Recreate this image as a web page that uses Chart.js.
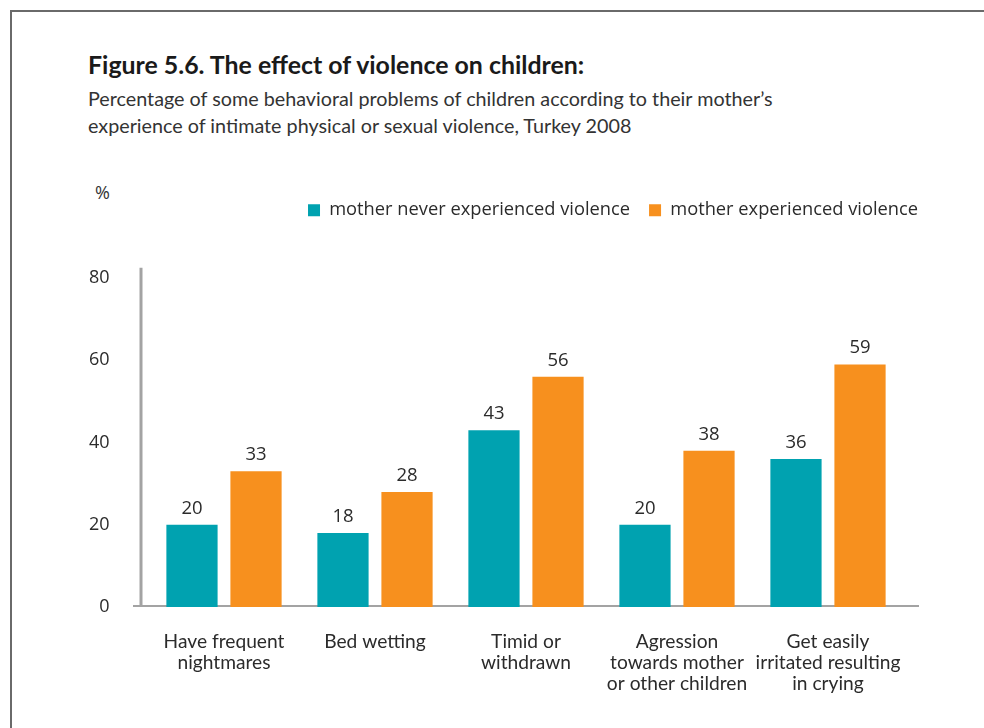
<!DOCTYPE html>
<html>
<head>
<meta charset="utf-8">
<script src="https://cdn.jsdelivr.net/npm/chart.js@4.4.1/dist/chart.umd.min.js"></script>
<style>
  html, body { margin: 0; padding: 0; background: #fff; }
  body { width: 984px; height: 728px; position: relative; overflow: hidden; }
  #frame { position: absolute; left: 10px; top: 10px; width: 1000px; height: 800px;
           border-left: 2px solid #6a6a6a; border-top: 2px solid #6a6a6a; }
  #title { position: absolute; left: 88px; top: 49px; font: bold 24.9px Lato, sans-serif;
           color: #1a1a1a; white-space: nowrap; }
  #subtitle { position: absolute; left: 88px; top: 85px; font: 19.75px/27px Lato, sans-serif;
              color: #333; white-space: nowrap; }
  #unit { position: absolute; left: 95px; top: 180px; font: 18px 'Open Sans', sans-serif; color: #333; }
  #wrap { position: absolute; left: 0; top: 0; width: 984px; height: 728px; }
</style>
</head>
<body>
<div id="frame"></div>
<div id="title">Figure 5.6. The effect of violence on children:</div>
<div id="subtitle">Percentage of some behavioral problems of children according to their mother’s<br>experience of intimate physical or sexual violence, Turkey 2008</div>
<div id="unit">%</div>
<div id="wrap"><canvas id="chart" width="984" height="728"></canvas></div>
<script>
// Behavioural problems (multi-line category labels)
const categories = [
  ["Have frequent", "nightmares"],
  ["Bed wetting"],
  ["Timid or", "withdrawn"],
  ["Agression", "towards mother", "or other children"],
  ["Get easily", "irritated resulting", "in crying"]
];
const seriesNames = ["mother never experienced violence", "mother experienced violence"];
const neverExperienced = [20, 18, 43, 20, 36];
const experienced = [33, 28, 56, 38, 59];
const yTickValues = [0, 20, 40, 60, 80];

const TEAL = "#00a2b0";
const ORANGE = "#f7901e";
const AXIS_GREY = "#a3a3a3";
const TEXT = "#2b2b2b";

// Grey y-axis line and baseline, drawn slightly outside the plot area
const axisLines = {
  id: "axisLines",
  beforeDatasetsDraw(chart) {
    const { ctx, chartArea, scales } = chart;
    const y0 = scales.y.getPixelForValue(0);
    ctx.save();
    ctx.strokeStyle = AXIS_GREY;
    ctx.lineWidth = 3;
    ctx.beginPath();
    ctx.moveTo(chartArea.left - 7.5, chartArea.top);
    ctx.lineTo(chartArea.left - 7.5, y0);
    ctx.stroke();
    ctx.lineWidth = 2;
    ctx.beginPath();
    ctx.moveTo(chartArea.left - 15.5, y0 - 1);
    ctx.lineTo(chartArea.right + 15.5, y0 - 1);
    ctx.stroke();
    ctx.restore();
  }
};

// Value printed above each bar
const valueLabels = {
  id: "valueLabels",
  afterDatasetsDraw(chart) {
    const { ctx } = chart;
    ctx.save();
    ctx.font = "18.5px 'Open Sans', sans-serif";
    ctx.fillStyle = TEXT;
    ctx.textAlign = "center";
    ctx.textBaseline = "alphabetic";
    chart.data.datasets.forEach((ds, di) => {
      chart.getDatasetMeta(di).data.forEach((bar, i) => {
        ctx.fillText(String(ds.data[i]), bar.x, bar.y - 11);
      });
    });
    ctx.restore();
  }
};

new Chart(document.getElementById("chart"), {
  type: "bar",
  data: {
    labels: categories,
    datasets: [
      { label: seriesNames[0], data: neverExperienced, backgroundColor: TEAL,
        barPercentage: 0.8, categoryPercentage: 0.848 },
      { label: seriesNames[1], data: experienced, backgroundColor: ORANGE,
        barPercentage: 0.8, categoryPercentage: 0.848 }
    ]
  },
  options: {
    responsive: false,
    animation: false,
    devicePixelRatio: 1,
    layout: { padding: { top: 182, right: 47, bottom: 0, left: 0 } },
    plugins: {
      legend: {
        position: "top",
        align: "end",
        labels: {
          boxWidth: 12, boxHeight: 12, padding: 19,
          color: TEXT,
          font: { family: "'Open Sans', sans-serif", size: 18.3 }
        }
      },
      title: { display: false },
      tooltip: { enabled: false }
    },
    scales: {
      x: {
        grid: { display: false, drawTicks: false },
        border: { display: false },
        ticks: {
          color: TEXT, padding: 24, maxRotation: 0, autoSkip: false,
          font: { family: "Lato, sans-serif", size: 19.2, lineHeight: 1.1 }
        },
        afterFit(s) { s.height = 121; }
      },
      xTop: {
        type: "category", position: "top", display: true,
        grid: { display: false, drawTicks: false },
        border: { display: false },
        ticks: { display: false },
        afterFit(s) { s.height = 38.5; }
      },
      y: {
        min: 0, max: 82.5,
        grid: { display: false, drawTicks: false },
        border: { display: false },
        afterBuildTicks(s) { s.ticks = yTickValues.map(v => ({ value: v })); },
        ticks: {
          color: TEXT, padding: 39,
          font: { family: "'Open Sans', sans-serif", size: 18 }
        },
        afterFit(s) { s.width = 148.5; }
      },
      yRight: {
        type: "linear", position: "right", display: true,
        grid: { display: false, drawTicks: false },
        border: { display: false },
        ticks: { display: false },
        afterFit(s) { s.width = 33.5; }
      }
    }
  },
  plugins: [axisLines, valueLabels]
});
</script>
</body>
</html>
